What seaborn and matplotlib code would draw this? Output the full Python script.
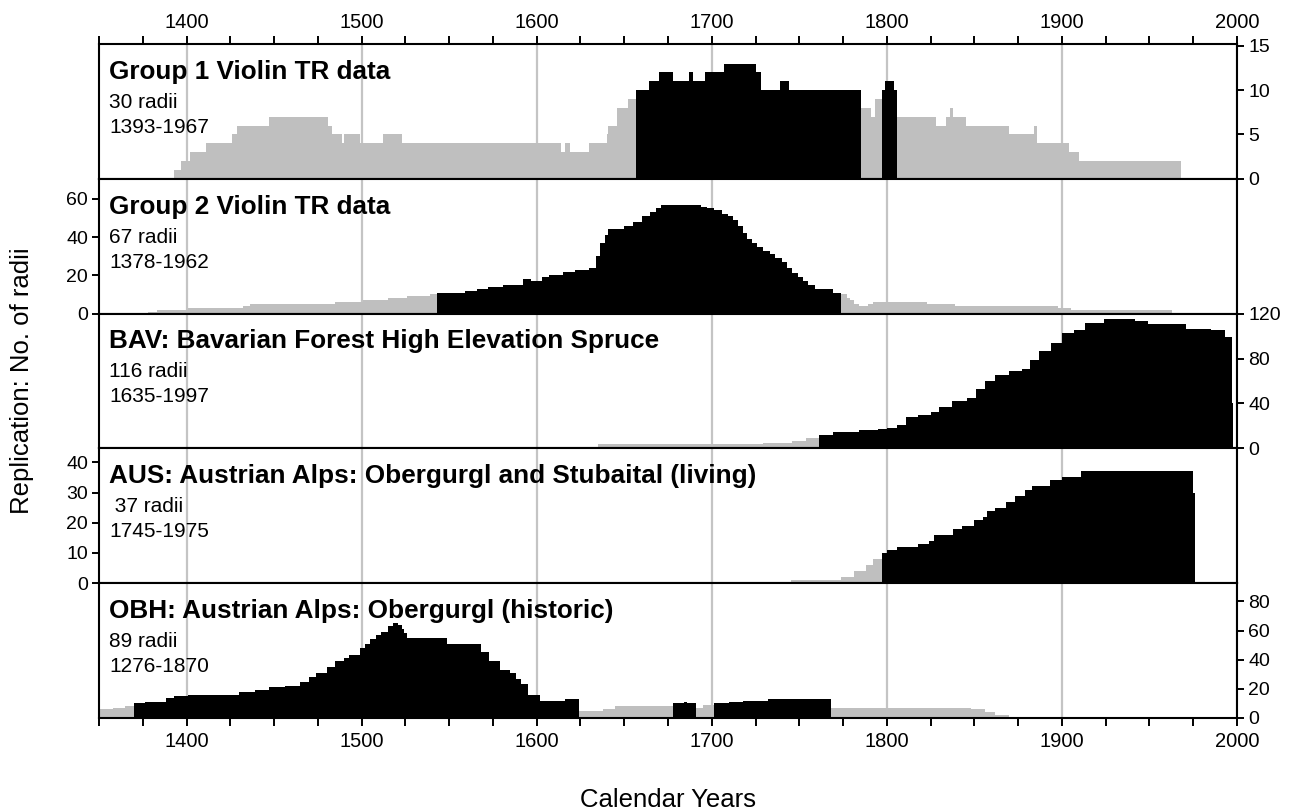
import matplotlib
matplotlib.use("Agg")
import matplotlib.pyplot as plt
from matplotlib.ticker import MultipleLocator
import numpy as np
import seaborn as sns

# ---- replication series: step start years, counts per step, final end year ----
g1_years = [1393, 1397, 1402, 1411, 1426, 1429, 1447, 1481, 1483, 1489, 1490, 1499,
            1512, 1523, 1614, 1616, 1619, 1630, 1640, 1641, 1646, 1652, 1657, 1664,
            1670, 1678, 1687, 1689, 1696, 1707, 1725, 1728, 1739, 1744, 1785, 1791,
            1793, 1797, 1799, 1804, 1806, 1828, 1834, 1836, 1838, 1845, 1870, 1884,
            1886, 1904, 1910]
g1_counts = [1, 2, 3, 4, 5, 6, 7, 6, 5, 4, 5, 4,
             5, 4, 3, 4, 3, 4, 5, 6, 8, 9, 10, 11,
             12, 11, 12, 11, 12, 13, 12, 10, 11, 10, 8, 7,
             9, 10, 11, 10, 7, 6, 7, 8, 7, 6, 5, 6,
             4, 3, 2]
g1_end = 1968
g1_black = [(1657, 1785), (1797, 1806)]

g2_years = [1378, 1383, 1401, 1432, 1436, 1485, 1501, 1515, 1526, 1539, 1543, 1559,
            1566, 1572, 1581, 1592, 1597, 1603, 1607, 1615, 1622, 1630, 1634, 1636,
            1639, 1641, 1650, 1655, 1660, 1665, 1668, 1671, 1694, 1697, 1701, 1706,
            1709, 1712, 1715, 1718, 1720, 1723, 1726, 1729, 1733, 1736, 1740, 1743,
            1746, 1749, 1752, 1755, 1759, 1769, 1774, 1777, 1779, 1781, 1784, 1789,
            1792, 1823, 1839, 1898, 1905]
g2_counts = [1, 2, 3, 4, 5, 6, 7, 8, 9, 10, 11, 12,
             13, 14, 15, 18, 17, 19, 20, 22, 23, 24, 30, 37,
             41, 44, 46, 48, 51, 53, 55, 57, 56, 55, 54, 52,
             51, 49, 46, 42, 39, 37, 35, 33, 31, 29, 27, 24,
             21, 19, 17, 15, 13, 11, 10, 8, 7, 5, 4, 5,
             6, 5, 4, 3, 2]
g2_end = 1963
g2_black = [(1543, 1774)]

bav_years = [1635, 1729, 1746, 1754, 1761, 1769, 1784, 1795, 1800, 1806, 1811, 1818,
             1825, 1830, 1837, 1846, 1851, 1856, 1862, 1870, 1877, 1882, 1887, 1894,
             1900, 1907, 1913, 1924, 1933, 1942, 1949, 1971, 1985, 1993, 1997]
bav_counts = [4, 5, 7, 9, 12, 15, 16, 17, 18, 21, 28, 30,
              32, 37, 42, 45, 53, 60, 65, 69, 71, 79, 87, 94,
              103, 105, 112, 115, 115, 113, 111, 106, 105, 99, 40]
bav_end = 1998
bav_black = [(1761, 1998)]

aus_years = [1745, 1774, 1781, 1788, 1792, 1797, 1800, 1806, 1818, 1824, 1827, 1838,
             1843, 1850, 1855, 1857, 1862, 1868, 1873, 1879, 1883, 1893, 1900, 1911,
             1975]
aus_counts = [1, 2, 4, 6, 8, 10, 11, 12, 13, 14, 16, 18,
              19, 21, 22, 24, 25, 27, 29, 31, 32, 34, 35, 37,
              30]
aus_end = 1976
aus_black = [(1797, 1976)]

obh_years = [1276, 1300, 1330, 1350, 1358, 1365, 1370, 1376, 1383, 1388, 1393, 1401,
             1430, 1439, 1447, 1456, 1465, 1470, 1474, 1480, 1485, 1490, 1493, 1499,
             1502, 1505, 1508, 1511, 1515, 1518, 1521, 1523, 1524, 1526, 1549, 1568,
             1573, 1579, 1585, 1588, 1591, 1595, 1602, 1616, 1624, 1638, 1645, 1678,
             1684, 1686, 1691, 1695, 1701, 1710, 1718, 1732, 1768, 1848, 1856, 1862]
obh_counts = [1, 3, 5, 6, 7, 8, 10, 11, 11, 14, 15, 16,
              18, 19, 21, 22, 25, 28, 31, 35, 39, 41, 43, 48,
              51, 54, 57, 59, 63, 65, 64, 61, 58, 55, 51, 45,
              39, 33, 31, 27, 23, 16, 12, 13, 5, 6, 8, 10,
              11, 10, 7, 9, 10, 11, 12, 13, 7, 6, 4, 2]
obh_end = 1870
obh_black = [(1370, 1624), (1678, 1691), (1701, 1768)]

titles = ["Group 1 Violin TR data",
          "Group 2 Violin TR data",
          "BAV: Bavarian Forest High Elevation Spruce",
          "AUS: Austrian Alps: Obergurgl and Stubaital (living)",
          "OBH: Austrian Alps: Obergurgl (historic)"]
radii_labels = ["30 radii", "67 radii", "116 radii", " 37 radii", "89 radii"]
span_labels = ["1393-1967", "1378-1962", "1635-1997", "1745-1975", "1276-1870"]

y_ticks = [[0, 5, 10, 15], [0, 20, 40, 60], [0, 40, 80, 120],
           [0, 10, 20, 30, 40], [0, 20, 40, 60, 80]]
y_tops = [15.2, 70.5, 120, 44.6, 92.5]
y_side = ["right", "left", "right", "left", "right"]

series = [(g1_years, g1_counts, g1_end, g1_black),
          (g2_years, g2_counts, g2_end, g2_black),
          (bav_years, bav_counts, bav_end, bav_black),
          (aus_years, aus_counts, aus_end, aus_black),
          (obh_years, obh_counts, obh_end, obh_black)]

GREY = "#bfbfbf"
BLACK = "#000000"

sns.set_style("ticks")
plt.rcParams["font.family"] = ["Liberation Sans", "DejaVu Sans"]
plt.rcParams["axes.linewidth"] = 1.5
plt.rcParams["text.color"] = "black"
plt.rcParams["axes.labelcolor"] = "black"
plt.rcParams["xtick.color"] = "black"
plt.rcParams["ytick.color"] = "black"

fig, axes = plt.subplots(5, 1, sharex=True, figsize=(13.02, 8.11), dpi=100,
                         gridspec_kw=dict(hspace=0))
fig.subplots_adjust(left=99 / 1302, right=1237 / 1302, top=1 - 44 / 811, bottom=1 - 718 / 811)


def step_fill(ax, starts, counts, end, color):
    edges = [float(v) for v in list(starts) + [end]]
    mids = [(edges[k] + edges[k + 1]) / 2 for k in range(len(edges) - 1)]
    sns.histplot(x=mids, weights=list(counts), bins=edges, element="step", fill=True,
                 stat="count", color=color, alpha=1, linewidth=0, edgecolor="none",
                 ax=ax)


for i, ax in enumerate(axes):
    starts, counts, end, black = series[i]
    step_fill(ax, starts, counts, end, GREY)
    for (a, b) in black:
        idx = [k for k, s in enumerate(starts) if a <= s < b]
        seg_starts = [starts[k] for k in idx]
        seg_counts = [counts[k] for k in idx]
        step_fill(ax, seg_starts, seg_counts, b, BLACK)

    ax.set_xlim(1350, 2000)
    ax.set_ylim(0, y_tops[i])
    ax.set_xlabel("")
    ax.set_ylabel("")
    ax.set_axisbelow(True)
    ax.xaxis.set_major_locator(MultipleLocator(100))
    ax.xaxis.set_minor_locator(MultipleLocator(25))
    ax.grid(axis="x", which="major", color="#c4c4c4", linewidth=1.6)
    ax.grid(axis="y", visible=False)
    for sp in ax.spines.values():
        sp.set_visible(True)
        sp.set_linewidth(1.5)
        sp.set_color("black")

    ax.set_yticks(y_ticks[i])
    if y_side[i] == "right":
        ax.yaxis.tick_right()
    else:
        ax.yaxis.tick_left()
    ax.tick_params(axis="y", direction="out", length=5, width=1.4, labelsize=14,
                   pad=3, colors="black")
    ax.tick_params(axis="x", which="both", bottom=False, top=False,
                   labelbottom=False, labeltop=False)

    ax.annotate(titles[i], xy=(0, 1), xycoords="axes fraction", xytext=(7.5, -25),
                textcoords="offset points", fontsize=18.8, fontweight="bold",
                ha="left", va="baseline", color="black")
    ax.annotate(radii_labels[i], xy=(0, 1), xycoords="axes fraction", xytext=(7.5, -46),
                textcoords="offset points", fontsize=15, ha="left", va="baseline",
                color="black")
    ax.annotate(span_labels[i], xy=(0, 1), xycoords="axes fraction", xytext=(7.5, -64),
                textcoords="offset points", fontsize=15, ha="left", va="baseline",
                color="black")

axes[0].tick_params(axis="x", which="both", top=True, labeltop=True, direction="out",
                    width=1.4, labelsize=14.5, pad=3, colors="black")
axes[0].tick_params(axis="x", which="major", length=6)
axes[0].tick_params(axis="x", which="minor", length=6)
axes[-1].tick_params(axis="x", which="both", bottom=True, labelbottom=True, direction="out",
                     width=1.4, labelsize=14.5, pad=4, colors="black")
axes[-1].tick_params(axis="x", which="major", length=6)
axes[-1].tick_params(axis="x", which="minor", length=6)

fig.text(22 / 1302, 1 - 381 / 811, "Replication: No. of radii", rotation=90,
         ha="center", va="center", fontsize=18.5, color="black")
fig.text(668 / 1302, 1 - 800 / 811, "Calendar Years", ha="center", va="center",
         fontsize=18.5, color="black")

fig.savefig("out.png", dpi=100)
